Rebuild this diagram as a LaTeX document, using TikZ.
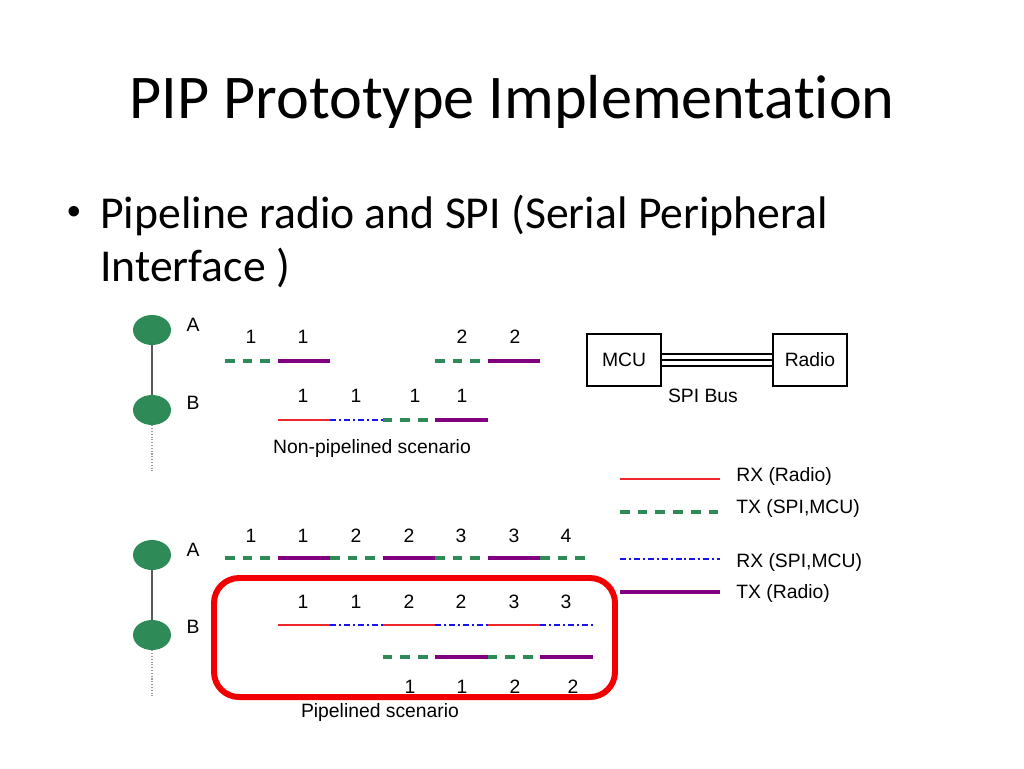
\documentclass[tikz,border=0pt]{standalone}
\usepackage{fontspec}
\setmainfont{Carlito}[Ligatures=NoCommon]
\newfontfamily\diagfont{Liberation Sans}
\usetikzlibrary{shapes.geometric}
\definecolor{pipgreen}{RGB}{46,139,87}
\definecolor{pippurple}{RGB}{128,0,128}
\definecolor{pipred}{RGB}{238,40,40}
\definecolor{pipblue}{RGB}{20,20,235}
\tikzset{
	rxradio/.style={line width=0.75pt, color=pipred},
	txspi/.style={line width=2.3pt, color=pipgreen, dash pattern=on 5.5pt off 4.6pt},
	rxspi/.style={line width=0.75pt, color=pipblue, dash pattern=on 3.4pt off 1.7pt on 1.1pt off 1.7pt},
	txradio/.style={line width=2.3pt, color=pippurple},
	station/.style={ellipse, fill=pipgreen, minimum width=0.76cm, minimum height=0.6cm, inner sep=0pt},
	lbl/.style={font=\diagfont\fontsize{11}{13}\selectfont, inner sep=0pt},
	chip/.style={draw, line width=1.1pt, minimum width=1.48cm, minimum height=1.04cm, font=\diagfont\fontsize{11}{13}\selectfont}
}

\begin{document}
\begin{tikzpicture}[x=0.02cm, y=-0.02cm]
		%%%%% START %%%%%
		\useasboundingbox[fill=white] (0, 0) rectangle (1024, 768);
		
		\node[anchor=base, font=\fontsize{35.4}{42}\selectfont] (title) at (512, 118) {PIP Prototype Implementation};
		\node[font=\diagfont\fontsize{22}{26}\selectfont, inner sep=0pt] (dot) at (74, 215) {•};
		\node[anchor=base west, font=\fontsize{26}{31}\selectfont, inner sep=0pt] (line1) at (100, 228) {Pipeline radio and SPI (Serial Peripheral};
		\node[anchor=base west, font=\fontsize{26}{31}\selectfont, inner sep=0pt] (line2) at (100, 281) {Interface )};
		
		% non-pipelined
		\node[station] (a1) at (152, 330) {};
		\node[station] (b1) at (152, 410) {};
		\coordinate (end1) at (152, 473);
		\draw[line width=0.9pt, color=black!65] (a1) -- (b1);
		\draw[line width=0.6pt, color=black!40, densely dotted] (b1) -- (end1);
		\node[lbl] (la1) at (193, 325) {A};
		\node[lbl] (lb1) at (193, 403) {B};
		
		\draw[txspi] (225, 361) -- (277.5, 361);
		\draw[txradio] (277.5, 361) -- (330, 361);
		\draw[txspi] (435, 361) -- (487.5, 361);
		\draw[txradio] (487.5, 361) -- (540, 361);
		\node[lbl] (n1) at (251, 337) {1};
		\node[lbl] (n2) at (303, 337) {1};
		\node[lbl] (n3) at (462, 337) {2};
		\node[lbl] (n4) at (515, 337) {2};
		
		\draw[rxradio] (277.5, 420) -- (330, 420);
		\draw[rxspi] (330, 420) -- (382.5, 420);
		\draw[txspi] (382.5, 420) -- (435, 420);
		\draw[txradio] (435, 420) -- (487.5, 420);
		\node[lbl] (n5) at (303, 396) {1};
		\node[lbl] (n6) at (356, 396) {1};
		\node[lbl] (n7) at (415, 396) {1};
		\node[lbl] (n8) at (462, 396) {1};
		\node[lbl] (cap1) at (372, 448) {Non-pipelined scenario};
		
		% bus
		\node[chip] (mcu) at (624, 360) {MCU};
		\node[chip] (radio) at (810, 360) {Radio};
		\draw[line width=0.6pt] ([yshift=0.12cm]mcu.east) -- ([yshift=0.12cm]radio.west);
		\draw[line width=0.6pt] (mcu.east) -- (radio.west);
		\draw[line width=0.6pt] ([yshift=-0.12cm]mcu.east) -- ([yshift=-0.12cm]radio.west);
		\node[lbl] (bus) at (703, 396) {SPI Bus};
		
		% legend
		\draw[rxradio] (620, 479) -- (720, 479);
		\draw[txspi] (620, 512) -- (720, 512);
		\draw[rxspi] (620, 559) -- (720, 559);
		\draw[txradio] (620, 592) -- (720, 592);
		\node[lbl, anchor=west] (k1) at (736, 476) {RX (Radio)};
		\node[lbl, anchor=west] (k2) at (736, 508) {TX (SPI,MCU)};
		\node[lbl, anchor=west] (k3) at (736, 562) {RX (SPI,MCU)};
		\node[lbl, anchor=west] (k4) at (736, 593) {TX (Radio)};
		
		% pipelined
		\node[station] (a2) at (152, 555) {};
		\node[station] (b2) at (152, 635) {};
		\coordinate (end2) at (152, 697);
		\draw[line width=0.9pt, color=black!65] (a2) -- (b2);
		\draw[line width=0.6pt, color=black!40, densely dotted] (b2) -- (end2);
		\node[lbl] (la2) at (193, 550) {A};
		\node[lbl] (lb2) at (193, 627) {B};
		
		\draw[txspi] (225, 558) -- (277.5, 558);
		\draw[txradio] (277.5, 558) -- (330, 558);
		\draw[txspi] (330, 558) -- (382.5, 558);
		\draw[txradio] (382.5, 558) -- (435, 558);
		\draw[txspi] (435, 558) -- (487.5, 558);
		\draw[txradio] (487.5, 558) -- (540, 558);
		\draw[txspi] (540, 558) -- (592.5, 558);
		\node[lbl] (p1) at (251, 536) {1};
		\node[lbl] (p2) at (303, 536) {1};
		\node[lbl] (p3) at (356, 536) {2};
		\node[lbl] (p4) at (409, 536) {2};
		\node[lbl] (p5) at (461, 536) {3};
		\node[lbl] (p6) at (514, 536) {3};
		\node[lbl] (p7) at (566, 536) {4};
		
		\draw[rxradio] (277.5, 625) -- (330, 625);
		\draw[rxspi] (330, 625) -- (382.5, 625);
		\draw[rxradio] (382.5, 625) -- (435, 625);
		\draw[rxspi] (435, 625) -- (487.5, 625);
		\draw[rxradio] (487.5, 625) -- (540, 625);
		\draw[rxspi] (540, 625) -- (592.5, 625);
		\node[lbl] (q1) at (303, 602) {1};
		\node[lbl] (q2) at (356, 602) {1};
		\node[lbl] (q3) at (409, 602) {2};
		\node[lbl] (q4) at (461, 602) {2};
		\node[lbl] (q5) at (514, 602) {3};
		\node[lbl] (q6) at (566, 602) {3};
		
		\draw[txspi] (382.5, 657) -- (435, 657);
		\draw[txradio] (435, 657) -- (487.5, 657);
		\draw[txspi] (487.5, 657) -- (540, 657);
		\draw[txradio] (540, 657) -- (592.5, 657);
		\node[lbl] (r1) at (410, 687) {1};
		\node[lbl] (r2) at (462, 687) {1};
		\node[lbl] (r3) at (515, 687) {2};
		\node[lbl] (r4) at (573, 687) {2};
		\node[lbl] (cap2) at (380, 712) {Pipelined scenario};
		
		\draw[line width=3.4pt, color=red!95!black, rounded corners=0.5cm] (214, 578) rectangle (615, 697);
		%%%%% END %%%%%
	\end{tikzpicture}
\end{document}
